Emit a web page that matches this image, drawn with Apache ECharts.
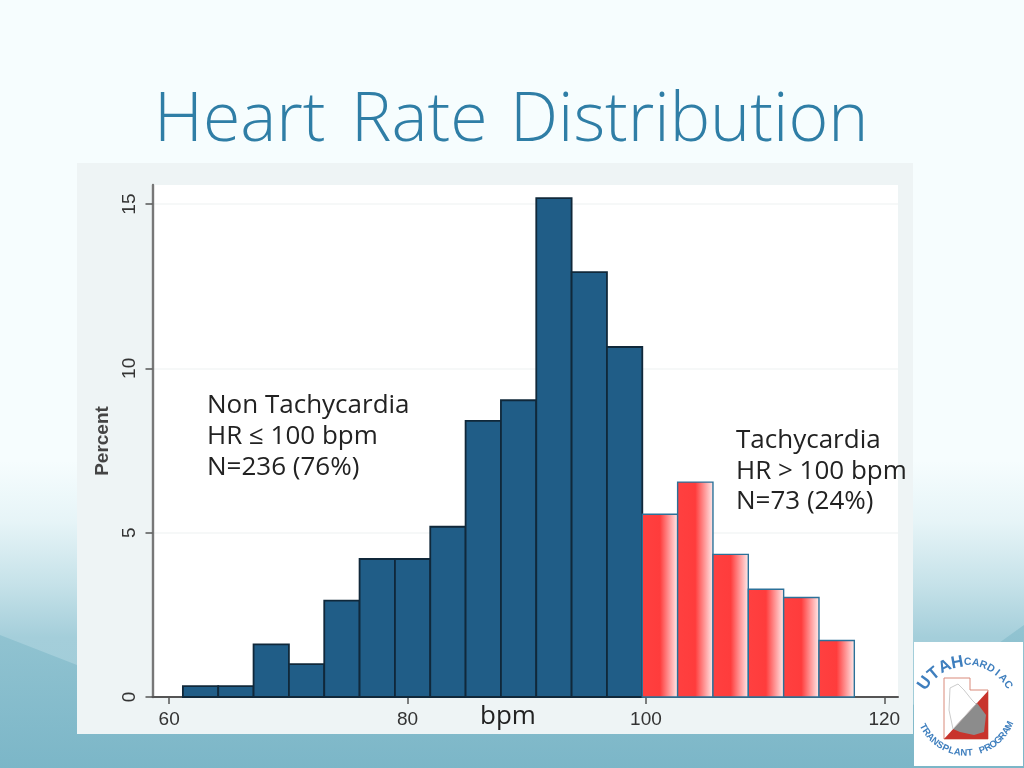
<!DOCTYPE html>
<html><head><meta charset="utf-8">
<style>
html,body{margin:0;padding:0;width:1024px;height:768px;overflow:hidden}
body{position:relative;background:linear-gradient(180deg,#f6fdfe 0%,#f6fdfe 60%,#e6f4f7 68%,#c6e2e9 76%,#a4cedA 83%,#9ccad6 100%);}
#w1{position:absolute;left:0;top:0;width:1024px;height:768px;background:linear-gradient(180deg,#94c5d2 600px,#78b4c6 768px);opacity:.9;
 clip-path:polygon(0 635px,77px 665px,500px 720px,913px 705px,1024px 625px,1024px 768px,0 768px);}
#c{position:absolute;left:0;top:0;width:1024px;height:768px}
</style>
<script src="https://cdn.jsdelivr.net/npm/echarts@6/dist/echarts.min.js"></script>
</head><body><div id="w1"></div><div id="c"></div>
<script>
const binStart = 61.15;
const binWidth = 2.965;
const nonTachyValues = [0.33,0.33,1.6,1.0,2.93,4.2,4.2,5.18,8.4,9.03,15.18,12.93,10.65];
const tachyValues = [5.56,6.54,4.34,3.28,3.03,1.72];
const xTicks = [60,80,100,120];
const yTicks = [0,5,10,15];
const titleWords = ['Heart','Rate','Distribution'];
const yAxisName = 'Percent';
const xAxisName = 'bpm';
const noteLeft = ['Non Tachycardia','HR \u2264 100 bpm','N=236 (76%)'];
const noteRight = ['Tachycardia','HR > 100 bpm','N=73 (24%)'];
const logoTop = 'UTAH';
const logoTop2 = 'CARDIAC';
const logoBottom = 'TRANSPLANT PROGRAM';

const toBins = (vals, offset) => vals.map((v,i)=>[binStart+(i+offset)*binWidth, binStart+(i+offset+1)*binWidth, v]);
const nonTachyBins = toBins(nonTachyValues,0);
const tachyBins = toBins(tachyValues,nonTachyValues.length);

function renderBar(styleFn){
  return function(params,api){
    const a=api.coord([api.value(0),api.value(2)]);
    const b=api.coord([api.value(1),0]);
    return {type:'rect',shape:{x:a[0],y:a[1],width:b[0]-a[0],height:b[1]-a[1]},style:styleFn()};
  };
}
const blueStyle=()=>({fill:'#205d87',stroke:'#10283a',lineWidth:1.8});
const redStyle=()=>({fill:{type:'linear',x:0,y:0,x2:1,y2:0,colorStops:[
  {offset:0,color:'#ff4040'},{offset:.5,color:'#ff3c3c'},{offset:1,color:'#fff0f0'}]},stroke:'#2c7199',lineWidth:1.4});

function arcText(str,cx,cy,r,a0,a1,color,size,bottom){
  const out=[];const n=str.length;
  for(let i=0;i<n;i++){
    const t=n>1?i/(n-1):0, ang=(a0+(a1-a0)*t)*Math.PI/180;
    const x=cx+r*Math.cos(ang), y=cy+r*Math.sin(ang);
    out.push({type:'text',x:x,y:y,z:64,rotation:bottom?-(ang-Math.PI/2):-(ang+Math.PI/2),
      style:{text:str[i],fill:color,font:'bold '+size+'px "Liberation Sans"',textAlign:'center',textVerticalAlign:'middle'},silent:true});
  }
  return out;
}
const textLines=(lines,x,y,lh,size)=>lines.map((s,i)=>({type:'text',x:x,y:y+i*lh,z:50,
  style:{text:s,fill:'#222',font:size+'px "Open Sans"',textAlign:'left',textVerticalAlign:'middle'}}));
const titleX=[154,351,510];

const chart=echarts.init(document.getElementById('c'),null,{renderer:'canvas'});
chart.setOption({
  animation:false,
  backgroundColor:'transparent',
  grid:{left:152.5,right:126,top:185,bottom:71,backgroundColor:'#fff',show:true,borderWidth:0},
  xAxis:{type:'value',min:58.6,max:121.15,
    axisLine:{onZero:false,lineStyle:{color:'#555',width:2}},
    axisTick:{show:true,length:7,customValues:xTicks,lineStyle:{color:'#555',width:1.5}},
    axisLabel:{customValues:xTicks,color:'#333',fontFamily:'Liberation Sans',fontSize:19,margin:13,showMinLabel:true,showMaxLabel:true},
    splitLine:{show:false}},
  yAxis:{type:'value',min:0,max:15.58,
    axisLine:{show:true,lineStyle:{color:'#777',width:2.4}},
    axisTick:{show:true,length:7,customValues:yTicks,lineStyle:{color:'#555',width:1.5}},
    axisLabel:{customValues:yTicks,rotate:90,color:'#333',fontFamily:'Liberation Sans',fontSize:19,margin:13,showMinLabel:true,showMaxLabel:true},
    splitLine:{show:true,lineStyle:{color:'#f6f8f8',width:2}},
    name:yAxisName,nameLocation:'middle',nameGap:32,nameRotate:90,
    nameTextStyle:{color:'#444',fontFamily:'Liberation Sans',fontSize:19,fontWeight:'bold'}},
  series:[
    {type:'custom',name:'Non tachycardia',coordinateSystem:'cartesian2d',data:nonTachyBins,z:5,clip:false,
     encode:{x:[0,1],y:2},renderItem:renderBar(blueStyle)},
    {type:'custom',name:'Tachycardia',coordinateSystem:'cartesian2d',data:tachyBins,z:5,clip:false,
     encode:{x:[0,1],y:2},renderItem:renderBar(redStyle)}
  ],
  graphic:{elements:[
    {type:'rect',z:-10,zlevel:-1,shape:{x:77,y:163,width:836,height:571},style:{fill:'#eef4f5'},silent:true},
    ...titleWords.map((w,i)=>({type:'text',x:titleX[i],y:122,z:50,style:{text:w,fill:'#2f7ea6',font:'300 68px "Open Sans"',textAlign:'left',textVerticalAlign:'middle'}})),
    ...textLines(noteLeft,207,406,31,26),
    ...textLines(noteRight,736,441,30.5,26),
    {type:'text',x:480,y:717,z:50,style:{text:xAxisName,fill:'#222',font:'26px "Open Sans"',textAlign:'left',textVerticalAlign:'middle'}},
    {type:'rect',z:60,shape:{x:914,y:642,width:109,height:124},style:{fill:'#fff'},silent:true},
    {type:'polygon',z:61,shape:{points:[[944,678],[970,678],[970,690],[988,690],[988,739],[944,739]]},style:{fill:'#fff',stroke:'#d98a7a',lineWidth:1},silent:true},
    {type:'polygon',z:62,shape:{points:[[988,691],[988,739],[944,739]]},style:{fill:'#c8342c'},silent:true},
    {type:'polygon',z:63,shape:{points:[[977,703],[986,715],[984,732],[974,735],[960,732],[953,729]]},style:{fill:'#8c8c8c'},silent:true},
    {type:'polyline',z:63,shape:{points:[[950,688],[958,684],[964,690],[972,700],[976,704],[953,729],[949,710],[950,688]]},style:{stroke:'#ccc',fill:'none',lineWidth:1},silent:true},
    ...arcText(logoTop,966,712,50,-145,-100,'#3f7fbe',17),
    ...arcText(logoTop2,966,712,50,-88,-33,'#3f7fbe',10.5),
    ...arcText(logoBottom,966,705,48,153,25,'#3f7fbe',9.5,true)
  ]}
});
</script></body></html>
